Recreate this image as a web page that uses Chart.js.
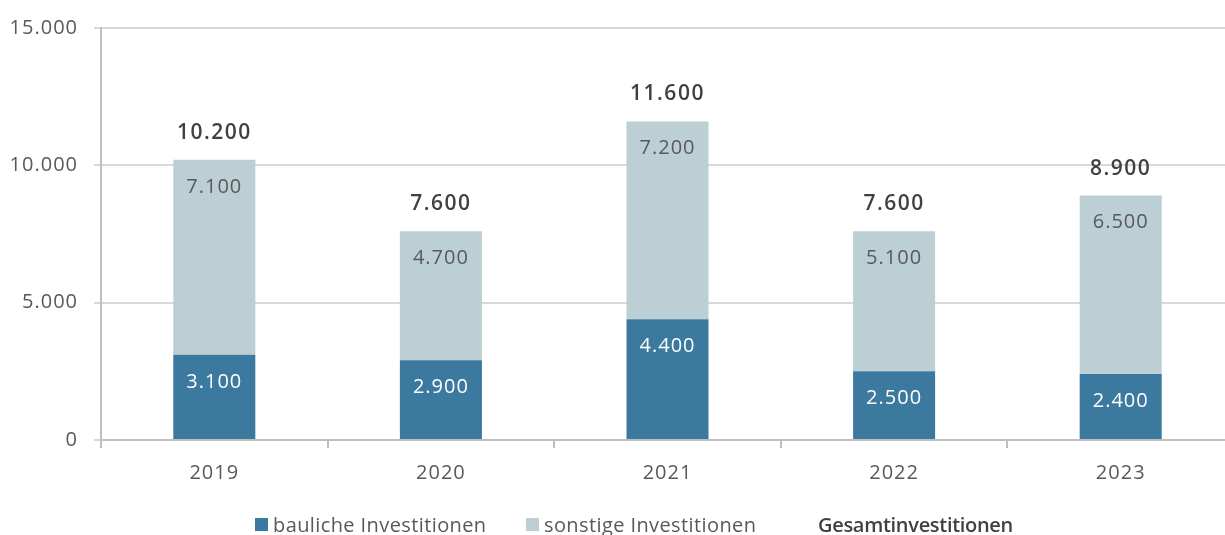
<!DOCTYPE html>
<html>
<head>
<meta charset="utf-8">
<script src="https://cdn.jsdelivr.net/npm/chart.js@4/dist/chart.umd.min.js"></script>
<style>
  body { margin: 0; background: #fff; }
  #wrap { position: relative; width: 1225px; height: 535px; overflow: hidden; }
  #bar-chart { position: absolute; left: 0; top: 0; }
  #legend {
    position: absolute; left: 0; top: 511px; width: 1225px; height: 25px;
    font-family: "Open Sans", sans-serif; font-size: 20px; color: #595959;
    letter-spacing: 0.4px;
  }
  #legend span.item { position: absolute; top: 0; display: flex; align-items: center; white-space: nowrap; }
  #legend span.box { width: 13px; height: 13px; margin-right: 5px; display: inline-block; }
</style>
</head>
<body>
<div id="wrap">
  <canvas id="bar-chart" width="1234" height="535"></canvas>
  <div id="legend"></div>
</div>
<script>
const years = ['2019', '2020', '2021', '2022', '2023'];
const bauliche = [3100, 2900, 4400, 2500, 2400];
const sonstige = [7100, 4700, 7200, 5100, 6500];
const gesamt = [10200, 7600, 11600, 7600, 8900];
const yTicks = [0, 5000, 10000, 15000];

const DARK = '#3b799e';
const LIGHT = '#bccfd4';
const FONT = '"Open Sans", sans-serif';

function fmt(v) {
  return String(Math.round(v)).replace(/\B(?=(\d{3})+(?!\d))/g, '.');
}

// a bit of letter spacing, the original font runs wider
const spacing = {
  id: 'spacing',
  beforeDraw(chart) { chart.ctx.letterSpacing = '1px'; }
};

const valueLabels = {
  id: 'valueLabels',
  afterDatasetsDraw(chart) {
    const ctx = chart.ctx;
    ctx.save();
    ctx.textAlign = 'center';
    ctx.textBaseline = 'middle';
    chart.data.datasets.forEach((ds, di) => {
      const meta = chart.getDatasetMeta(di);
      meta.data.forEach((el, i) => {
        if (di === 2) {
          ctx.font = '600 21px ' + FONT;
          ctx.letterSpacing = '1.5px';
          ctx.fillStyle = '#404040';
          ctx.fillText(fmt(ds.data[i]), el.x, el.y - 27);
        } else {
          ctx.font = '20px ' + FONT;
          ctx.letterSpacing = '1px';
          ctx.fillStyle = di === 0 ? '#ffffff' : '#595959';
          ctx.fillText(fmt(ds.data[i]), el.x, el.y + 27);
        }
      });
    });
    ctx.restore();
  }
};

const chart = new Chart(document.getElementById('bar-chart'), {
  type: 'bar',
  data: {
    labels: years,
    datasets: [
      {
        label: 'bauliche Investitionen',
        data: bauliche,
        backgroundColor: DARK,
        categoryPercentage: 1,
        barPercentage: 0.362,
        stack: 's'
      },
      {
        label: 'sonstige Investitionen',
        data: sonstige,
        backgroundColor: LIGHT,
        categoryPercentage: 1,
        barPercentage: 0.362,
        stack: 's'
      },
      {
        type: 'line',
        label: 'Gesamtinvestitionen',
        data: gesamt,
        showLine: false,
        pointRadius: 0,
        borderColor: 'transparent',
        backgroundColor: 'transparent'
      }
    ]
  },
  options: {
    responsive: false,
    animation: false,
    layout: { padding: { top: 27, right: 0, bottom: 35, left: 0 } },
    plugins: {
      legend: { display: false },
      tooltip: { enabled: false }
    },
    scales: {
      x: {
        stacked: true,
        offset: true,
        afterFit(scale) { scale.height = 60; },
        grid: {
          offset: true,
          drawOnChartArea: false,
          tickLength: 8,
          color: '#bfbfbf',
          lineWidth: 2
        },
        border: { color: '#bfbfbf', width: 2 },
        ticks: {
          padding: 13,
          color: '#595959',
          font: { family: FONT, size: 20 }
        }
      },
      y: {
        stacked: true,
        min: 0,
        max: 15000,
        afterFit(scale) { scale.width = 101; },
        afterBuildTicks(scale) { scale.ticks = yTicks.map(v => ({ value: v })); },
        grid: {
          color: '#d9d9d9',
          lineWidth: 2,
          tickLength: 7
        },
        border: { color: '#bfbfbf', width: 2 },
        ticks: {
          padding: 16,
          color: '#595959',
          font: { family: FONT, size: 20 },
          callback: v => fmt(v)
        }
      }
    }
  },
  plugins: [spacing, valueLabels]
});

// legend built from the datasets
const legendLeft = [255, 526, 818];
const legend = document.getElementById('legend');
chart.data.datasets.forEach((ds, i) => {
  const item = document.createElement('span');
  item.className = 'item';
  item.style.left = legendLeft[i] + 'px';
  if (i < 2) {
    const box = document.createElement('span');
    box.className = 'box';
    box.style.background = ds.backgroundColor;
    item.appendChild(box);
  } else {
    item.style.fontWeight = '600';
    item.style.color = '#404040';
    item.style.letterSpacing = '-0.3px';
  }
  item.appendChild(document.createTextNode(ds.label));
  legend.appendChild(item);
});
</script>
</body>
</html>
